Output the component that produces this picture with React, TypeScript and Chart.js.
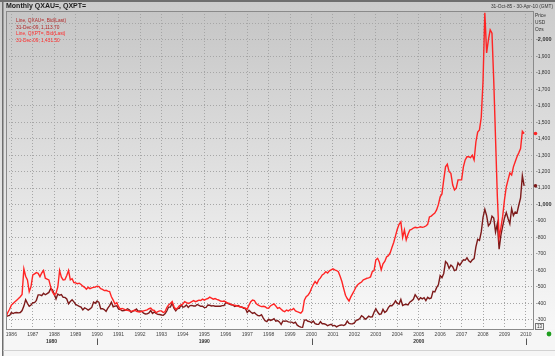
import React, { useEffect, useRef } from 'react';
import { Chart, registerables } from 'chart.js';

Chart.register(...registerables);

const FONT = '"Liberation Sans", Arial, sans-serif';

// Monthly series start: October 1985, one value per month through December 2009
const START_YEAR = 1985;
const START_MONTH = 10;

// QXAU= (gold), USD / oz
const GOLD_QXAU = [
  320, 325, 327,
  345, 339, 344, 345, 343, 345, 357, 384, 423, 401, 383, 391,
  405, 405, 419, 452, 452, 447, 462, 453, 460, 467, 490, 484,
  458, 427, 457, 450, 454, 437, 437, 427, 398, 412, 422, 410,
  394, 388, 383, 378, 361, 373, 368, 360, 367, 376, 408, 401,
  415, 407, 368, 368, 363, 352, 372, 387, 408, 380, 384, 386,
  366, 363, 355, 357, 360, 368, 362, 347, 354, 357, 366, 353,
  354, 353, 341, 336, 337, 343, 357, 340, 349, 339, 334, 333,
  330, 328, 337, 354, 378, 378, 401, 371, 355, 369, 370, 391,
  378, 381, 391, 376, 387, 388, 385, 385, 394, 389, 383, 383,
  375, 376, 391, 389, 385, 387, 383, 383, 383, 383, 387, 387,
  405, 400, 396, 392, 391, 382, 385, 387, 379, 379, 371, 369,
  345, 358, 348, 340, 345, 334, 326, 325, 332, 311, 296, 290,
  304, 297, 301, 308, 293, 296, 288, 273, 294, 292, 294, 288,
  287, 287, 280, 286, 268, 261, 256, 255, 299, 300, 292, 290,
  284, 293, 277, 274, 273, 289, 277, 277, 273, 265, 270, 273,
  265, 267, 258, 264, 268, 270, 266, 273, 293, 279, 276, 277,
  282, 297, 301, 308, 326, 318, 304, 312, 323, 317, 319, 347,
  368, 348, 334, 337, 364, 346, 354, 375, 388, 386, 398, 416,
  400, 396, 424, 388, 393, 395, 391, 408, 416, 425, 453, 438,
  422, 435, 428, 435, 417, 437, 429, 433, 473, 470, 496, 513,
  569, 556, 582, 654, 643, 613, 633, 623, 599, 604, 646, 632,
  650, 665, 662, 677, 659, 650, 665, 672, 743, 789, 783, 834,
  923, 971, 933, 871, 885, 930, 918, 833, 884, 730, 815, 869,
  919, 952, 916, 883, 975, 934, 955, 949, 996, 1040, 1175, 1113.7,
];

// QXPT= (platinum), USD / oz
const PLAT_QXPT = [
  318, 345, 365,
  390, 400, 410, 420, 430, 441, 455, 610, 565, 543, 472, 502,
  573, 580, 587, 583, 563, 585, 600, 553, 548, 543, 500, 470,
  452, 462, 500, 600, 560, 543, 545, 570, 600, 543, 550, 527,
  525, 520, 523, 515, 505, 498, 486, 498, 490, 495, 498, 500,
  505, 502, 490, 485, 478, 480, 475, 472, 441, 420, 397, 405,
  380, 365, 370, 365, 360, 358, 355, 352, 355, 360, 352, 350,
  348, 352, 355, 358, 361, 368, 372, 360, 358, 344, 350, 355,
  355, 345, 350, 375, 391, 400, 411, 381, 365, 372, 385, 390,
  397, 411, 405, 400, 405, 411, 417, 411, 415, 420, 418, 426,
  420, 426, 430, 438, 432, 426, 430, 425, 421, 415, 413, 415,
  410, 403, 401, 395, 391, 389, 386, 383, 380, 377, 375, 371,
  365, 390, 411, 421, 418, 400, 391, 385, 381, 383, 380, 372,
  371, 385, 392, 398, 385, 370, 375, 365, 355, 350, 360, 355,
  362, 361, 370, 355, 350, 346, 341, 355, 420, 441, 450, 465,
  492, 515, 533, 520, 543, 555, 573, 580, 593, 585, 598, 604,
  610, 604, 600, 593, 565, 533, 490, 450, 430, 415, 440, 460,
  480, 502, 515, 523, 530, 543, 548, 553, 555, 561, 593, 600,
  664, 674, 650, 604, 640, 655, 682, 690, 707, 740, 770, 810,
  850, 880, 895, 800, 846, 786, 820, 846, 850, 858, 862, 860,
  862, 865, 862, 865, 870, 880, 925, 930, 940, 949, 968, 1000,
  1047, 1065, 1150, 1229, 1245, 1200, 1190, 1120, 1089, 1100, 1150, 1150,
  1150, 1229, 1271, 1290, 1290, 1285, 1300, 1271, 1380, 1440, 1453, 1530,
  1750, 2164, 1921, 2000, 2060, 2040, 1750, 1400, 1050, 800, 860, 930,
  1029, 1107, 1150, 1192, 1180, 1229, 1260, 1290, 1314, 1340, 1445, 1431.5,
];

// Axis ranges: 31-Oct-85 .. 30-Apr-10, price axis
const X_MIN = 1985.75;
const X_MAX = 2010.33;
const Y_MIN = 245;
const Y_MAX = 2175;
const Y_LABEL_MAX = 2000;
const Y_STEP = 100;

const DECADES = [
  { label: '1980', from: 1980, to: 1990 },
  { label: '1990', from: 1990, to: 2000 },
  { label: '2000', from: 2000, to: 2010 },
];
const DECADE_MARKS = [1990, 2000, 2010];

const TITLE = 'Monthly QXAU=, QXPT=';
const DATE_RANGE = '31-Oct-85 - 30-Apr-10 (GMT)';
const UNIT_LINES = ['Price', 'USD', 'Ozs'];
const LEGEND_LINES = [
  { text: 'Line, QXAU=, Bid(Last)', series: 'gold' },
  { text: '31-Dec-09, 1,113.70', series: 'gold' },
  { text: 'Line, QXPT=, Bid(Last)', series: 'plat' },
  { text: '31-Dec-09, 1,431.50', series: 'plat' },
];

const GOLD_COLOR = '#7d1a1a';
const PLAT_COLOR = '#ff2424';
const GOLD_TEXT = '#b02424';
const PLAT_TEXT = '#ff2a2a';

const toPoints = (vals: number[]) =>
  vals.map((v, i) => ({ x: START_YEAR + (START_MONTH - 1 + i) / 12, y: v }));

const decorPlugin = {
  id: 'decor',
  beforeDraw(chart: any) {
    const { ctx, width, height, chartArea: a } = chart;
    ctx.save();
    const g = ctx.createLinearGradient(0, 0, 0, height);
    g.addColorStop(0, '#cbcbcb');
    g.addColorStop(1, '#fbfbfb');
    ctx.fillStyle = g;
    ctx.fillRect(0, 0, width, height);
    ctx.fillStyle = '#f6f6f6';
    ctx.fillRect(3, a.bottom, width - 3, height - a.bottom);
    const pg = ctx.createLinearGradient(0, a.top, 0, a.bottom);
    pg.addColorStop(0, '#c6c6c6');
    pg.addColorStop(1, '#fafafa');
    ctx.fillStyle = pg;
    ctx.fillRect(a.left, a.top, a.right - a.left, a.bottom - a.top);
    ctx.restore();
  },
  afterDraw(chart: any) {
    const { ctx, width, height, chartArea: a, scales } = chart;
    const xs = scales.x;
    const ys = scales.y;
    ctx.save();
    // frame
    ctx.fillStyle = '#6e6e6e';
    ctx.fillRect(0, 0, width, 2);
    ctx.fillRect(2, 0, 1.5, height);
    ctx.strokeStyle = '#8a8a8a';
    ctx.lineWidth = 1;
    ctx.strokeRect(Math.round(a.left) + 0.5, Math.round(a.top) + 0.5, Math.round(a.right - a.left), Math.round(a.bottom - a.top));
    ctx.strokeStyle = '#d2d2d2';
    ctx.beginPath();
    ctx.moveTo(3, 350.5);
    ctx.lineTo(width, 350.5);
    ctx.stroke();

    ctx.textBaseline = 'middle';
    // title
    ctx.fillStyle = '#1c1c1c';
    ctx.font = `bold 7px ${FONT}`;
    ctx.textAlign = 'left';
    ctx.fillText(TITLE, 6, 6.5);
    // date range
    ctx.fillStyle = '#333';
    ctx.font = `4.8px ${FONT}`;
    ctx.textAlign = 'right';
    ctx.fillText(DATE_RANGE, 553, 6.5);
    // unit lines
    ctx.textAlign = 'left';
    UNIT_LINES.forEach((t, i) => ctx.fillText(t, a.right + 2, 16 + i * 7));
    // legend
    ctx.font = `4.8px ${FONT}`;
    LEGEND_LINES.forEach((l, i) => {
      ctx.fillStyle = l.series === 'gold' ? GOLD_TEXT : PLAT_TEXT;
      ctx.fillText(l.text, 16, 21 + i * 6.5);
    });
    // decade labels
    ctx.fillStyle = '#333';
    ctx.font = `bold 5px ${FONT}`;
    ctx.textAlign = 'center';
    DECADES.forEach((d) => {
      const lo = Math.max(d.from, xs.min);
      const hi = Math.min(d.to, xs.max);
      ctx.fillText(d.label, xs.getPixelForValue((lo + hi) / 2), 342);
    });
    ctx.strokeStyle = '#555';
    DECADE_MARKS.forEach((yv) => {
      const px = Math.round(xs.getPixelForValue(yv)) + 0.5;
      ctx.beginPath();
      ctx.moveTo(px, 338.5);
      ctx.lineTo(px, 345);
      ctx.stroke();
    });
    // last-value markers
    const lastPlat = PLAT_QXPT[PLAT_QXPT.length - 1];
    const lastGold = GOLD_QXAU[GOLD_QXAU.length - 1];
    ctx.fillStyle = PLAT_COLOR;
    ctx.beginPath();
    ctx.arc(a.right + 2.5, ys.getPixelForValue(lastPlat), 1.8, 0, Math.PI * 2);
    ctx.fill();
    ctx.fillStyle = GOLD_COLOR;
    ctx.beginPath();
    ctx.arc(a.right + 2.5, ys.getPixelForValue(lastGold), 1.8, 0, Math.PI * 2);
    ctx.fill();
    // small box
    ctx.fillStyle = '#f2f2f2';
    ctx.fillRect(a.right + 2.5, 323.5, 8, 6);
    ctx.strokeStyle = '#777';
    ctx.strokeRect(a.right + 2.5, 323.5, 8, 6);
    ctx.fillStyle = '#333';
    ctx.font = `4.5px ${FONT}`;
    ctx.fillText('13', a.right + 6.5, 326.7);
    // green status dot
    ctx.fillStyle = '#1f9e1f';
    ctx.beginPath();
    ctx.arc(549, 334, 2.4, 0, Math.PI * 2);
    ctx.fill();
    ctx.restore();
  },
};

export default function App() {
  const ref = useRef<HTMLCanvasElement | null>(null);
  useEffect(() => {
    document.body.style.margin = '0';
    if (!ref.current) return;
    const chart = new Chart(ref.current, {
      type: 'line',
      data: {
        datasets: [
          {
            label: 'QXPT=',
            data: toPoints(PLAT_QXPT),
            borderColor: PLAT_COLOR,
            borderWidth: 1.4,
            pointRadius: 0,
            tension: 0,
          },
          {
            label: 'QXAU=',
            data: toPoints(GOLD_QXAU),
            borderColor: GOLD_COLOR,
            borderWidth: 1.4,
            pointRadius: 0,
            tension: 0,
          },
        ],
      },
      options: {
        responsive: false,
        animation: false,
        devicePixelRatio: 1,
        layout: { padding: { left: 6, top: 11, right: 0, bottom: 0 } },
        plugins: { legend: { display: false }, tooltip: { enabled: false } },
        scales: {
          x: {
            type: 'linear',
            min: X_MIN,
            max: X_MAX,
            afterFit: (s: any) => {
              s.height = 27;
            },
            grid: { color: '#a6a6a6', lineWidth: 1, drawTicks: false },
            border: { display: false, dash: [1, 2] },
            ticks: {
              stepSize: 1,
              includeBounds: false,
              autoSkip: false,
              maxRotation: 0,
              padding: 2.5,
              color: '#444',
              font: { size: 5, family: FONT },
              callback: (v: any) => String(v),
            },
          },
          y: {
            type: 'linear',
            position: 'right',
            min: Y_MIN,
            max: Y_MAX,
            afterFit: (s: any) => {
              s.width = 22;
            },
            grid: { color: '#a6a6a6', lineWidth: 1, drawTicks: false },
            border: { display: false, dash: [1, 2] },
            ticks: {
              stepSize: Y_STEP,
              includeBounds: false,
              padding: 3,
              color: '#333',
              font: (c: any) => ({
                size: c.tick && c.tick.value % 1000 === 0 ? 5.5 : 5,
                family: FONT,
                weight: c.tick && c.tick.value % 1000 === 0 ? 'bold' : 'normal',
              }),
              callback: (v: any) =>
                Number(v) > Y_LABEL_MAX ? '' : '-' + Number(v).toLocaleString('en-US'),
            },
          },
        },
      },
      plugins: [decorPlugin],
    });
    return () => chart.destroy();
  }, []);
  return (
    <div style={{ width: 555, height: 356 }}>
      <canvas ref={ref} width={555} height={356} style={{ display: 'block' }} />
    </div>
  );
}
